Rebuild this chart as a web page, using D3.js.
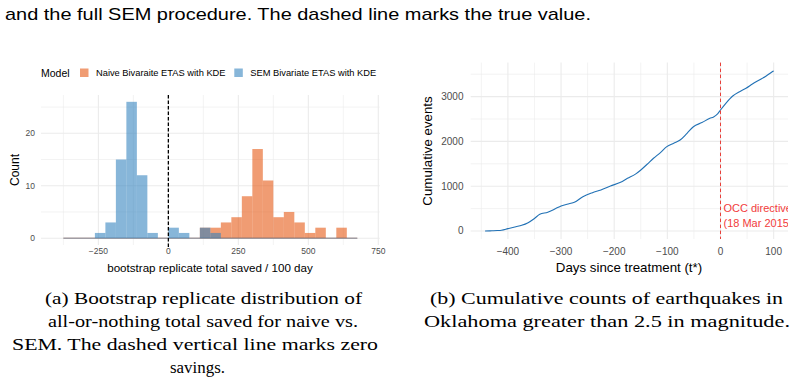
<!DOCTYPE html>
<html>
<head>
<meta charset="utf-8">
<script src="https://cdn.jsdelivr.net/npm/d3@7"></script>
<style>
body { margin: 0; background: #fff; }
svg { display: block; }
</style>
</head>
<body>
<div id="chart"></div>
<script>
// histogram bins (left edges, width 37.5) and counts per model
const binEdges = [-375, -337.5, -300, -262.5, -225, -187.5, -150, -112.5, -75, -37.5,
    0, 37.5, 75, 112.5, 150, 187.5, 225, 262.5, 300, 337.5,
    375, 412.5, 450, 487.5, 525, 562.5, 600, 637.5];
const binWidth = 37.5;
const naiveCounts = [0, 0, 0, 0, 0, 0, 0, 0, 0, 0, 0, 0, 0, 2, 2, 3, 4, 8, 17, 11, 4, 5, 3, 1, 2, 0, 2, 0];
const semCounts = [0, 0, 0, 1, 3, 15, 26, 12, 1, 0, 2, 1, 0, 2, 1, 0, 0, 0, 0, 0, 0, 0, 0, 0, 0, 0, 0, 0];
const modelNames = ["Naive Bivaraite ETAS with KDE", "SEM Bivariate ETAS with KDE"];
const modelColors = ["#e6550d", "#3182bd"];
const histXTicks = [-250, 0, 250, 500, 750];
const histXMinor = [-375, -125, 125, 375, 625];
const histYTicks = [0, 10, 20];
const histYMinor = [5, 15, 25];

// cumulative earthquake counts vs days since treatment
const days = [-443, -430, -420, -412, -400, -385, -374, -362, -350, -340, -325, -310, -300, -285, -275, -259,
    -241, -225, -207, -188, -175, -160, -151, -138, -126, -113, -101, -88, -76, -63, -51, -35, -20, -13, -5,
    0, 10, 23, 36, 48, 60, 73, 86, 98, 100];
const cumEvents = [0, 5, 10, 18, 52, 95, 127, 186, 280, 372, 417, 500, 558, 610, 640, 766,
    855, 915, 1004, 1087, 1176, 1270, 1350, 1490, 1623, 1750, 1882, 1960, 2031, 2180, 2328, 2420, 2515, 2545, 2620,
    2700, 2850, 3013, 3110, 3185, 3280, 3370, 3460, 3560, 3575];
const lineXTicks = [-400, -300, -200, -100, 0, 100];
const lineXMinor = [-450, -350, -250, -150, -50, 50];
const lineYTicks = [0, 1000, 2000, 3000];
const lineYMinor = [500, 1500, 2500, 3500];

const captionA = ["(a) Bootstrap replicate distribution of", "all-or-nothing total saved for naive vs.",
    "SEM. The dashed vertical line marks zero", "savings."];
const captionB = ["(b) Cumulative counts of earthquakes in", "Oklahoma greater than 2.5 in magnitude."];

const svg = d3.select("#chart")
    .append("svg")
    .attr("width", 797)
    .attr("height", 386);

const sans = "'Liberation Sans', Arial, sans-serif";
const serif = "'Liberation Serif', 'DejaVu Serif', serif";
const gridCol = "#ebebeb", tickCol = "#4d4d4d";

// leftover caption line of the previous figure
svg.append("text")
    .attr("x", 5).attr("y", 20)
    .style("font-family", sans).style("font-size", "17px")
    .attr("textLength", 586).attr("lengthAdjust", "spacingAndGlyphs")
    .text("and the full SEM procedure. The dashed line marks the true value.");

function drawGrid(g, x, y, xt, xm, yt, ym) {
    const [x0, x1] = x.range(), [y0, y1] = y.range();
    g.selectAll(".gxm").data(xm).enter().append("line")
        .attr("x1", d => x(d)).attr("x2", d => x(d)).attr("y1", y0).attr("y2", y1)
        .attr("stroke", gridCol).attr("stroke-width", 0.6);
    g.selectAll(".gym").data(ym).enter().append("line")
        .attr("y1", d => y(d)).attr("y2", d => y(d)).attr("x1", x0).attr("x2", x1)
        .attr("stroke", gridCol).attr("stroke-width", 0.6);
    g.selectAll(".gx").data(xt).enter().append("line")
        .attr("x1", d => x(d)).attr("x2", d => x(d)).attr("y1", y0).attr("y2", y1)
        .attr("stroke", gridCol).attr("stroke-width", 1.1);
    g.selectAll(".gy").data(yt).enter().append("line")
        .attr("y1", d => y(d)).attr("y2", d => y(d)).attr("x1", x0).attr("x2", x1)
        .attr("stroke", gridCol).attr("stroke-width", 1.1);
}

const fmt = d => d < 0 ? "\u2212" + Math.abs(d) : String(d);

// ---------- (a) histogram ----------
const hx = d3.scaleLinear().domain([-455, 755]).range([41, 379.7]);
const hy = d3.scaleLinear().domain([-1.3, 27.3]).range([245, 95]);
const ga = svg.append("g");
drawGrid(ga, hx, hy, histXTicks, histXMinor, histYTicks, histYMinor);

[naiveCounts, semCounts].forEach((counts, i) => {
    ga.append("line")
        .attr("x1", hx(binEdges[0])).attr("x2", hx(binEdges[binEdges.length - 1] + binWidth))
        .attr("y1", hy(0)).attr("y2", hy(0))
        .attr("stroke", modelColors[i]).attr("stroke-opacity", 0.6).attr("stroke-width", 1);
    ga.selectAll(".bar" + i)
        .data(binEdges.map((e, k) => ({ e: e, n: counts[k] })).filter(d => d.n > 0))
        .enter().append("rect")
        .attr("x", d => hx(d.e))
        .attr("width", d => hx(d.e + binWidth) - hx(d.e))
        .attr("y", d => hy(d.n))
        .attr("height", d => hy(0) - hy(d.n))
        .attr("fill", modelColors[i])
        .attr("fill-opacity", 0.58);
});

ga.append("line")
    .attr("x1", hx(0)).attr("x2", hx(0)).attr("y1", 95).attr("y2", 247)
    .attr("stroke", "#000").attr("stroke-width", 1.3).attr("stroke-dasharray", "3.5,2");

ga.selectAll(".hxl").data(histXTicks).enter().append("text")
    .attr("x", d => hx(d)).attr("y", 254)
    .attr("text-anchor", "middle")
    .style("font-family", sans).style("font-size", "8.5px").attr("fill", tickCol)
    .text(fmt);
ga.selectAll(".hyl").data(histYTicks).enter().append("text")
    .attr("x", 35).attr("y", d => hy(d) + 3)
    .attr("text-anchor", "end")
    .style("font-family", sans).style("font-size", "8.5px").attr("fill", tickCol)
    .text(fmt);
ga.append("text")
    .attr("x", 210).attr("y", 271.5)
    .attr("text-anchor", "middle")
    .style("font-family", sans).style("font-size", "11.6px")
    .text("bootstrap replicate total saved / 100 day");
ga.append("text")
    .attr("transform", "translate(19,170) rotate(-90)")
    .attr("text-anchor", "middle")
    .style("font-family", sans).style("font-size", "12px")
    .text("Count");

// legend
ga.append("text")
    .attr("x", 41).attr("y", 77)
    .style("font-family", sans).style("font-size", "10.5px")
    .text("Model");
const legX = [80, 234.3];
modelNames.forEach((name, i) => {
    ga.append("rect")
        .attr("x", legX[i]).attr("y", 68.5).attr("width", 8.5).attr("height", 8.5)
        .attr("fill", modelColors[i]).attr("fill-opacity", 0.58);
    ga.append("text")
        .attr("x", legX[i] + 16).attr("y", 76.2)
        .style("font-family", sans).style("font-size", "9.3px")
        .text(name);
});

// ---------- (b) cumulative events ----------
const lx = d3.scaleLinear().domain([-470, 127]).range([470.7, 788]);
const ly = d3.scaleLinear().domain([-179, 3759]).range([239, 62.6]);
const gb = svg.append("g");
drawGrid(gb, lx, ly, lineXTicks, lineXMinor, lineYTicks, lineYMinor);

gb.append("clipPath").attr("id", "clipb")
    .append("rect").attr("x", 470.7).attr("y", 62.6).attr("width", 788 - 470.7).attr("height", 239 - 62.6);

const line = d3.line().x(d => lx(d[0])).y(d => ly(d[1])).curve(d3.curveMonotoneX);
gb.append("path")
    .datum(days.map((d, i) => [d, cumEvents[i]]))
    .attr("d", line)
    .attr("fill", "none")
    .attr("stroke", "#2171b5")
    .attr("stroke-width", 1.1);

gb.append("line")
    .attr("x1", lx(0)).attr("x2", lx(0)).attr("y1", 62.6).attr("y2", 239)
    .attr("stroke", "#e8403a").attr("stroke-width", 1).attr("stroke-dasharray", "3.5,2.5");

const occ = gb.append("g").attr("clip-path", "url(#clipb)");
["OCC directive", "(18 Mar 2015)"].forEach((t, i) => {
    occ.append("text")
        .attr("x", lx(0) + 3).attr("y", 212 + i * 15)
        .style("font-family", sans).style("font-size", "11px")
        .attr("fill", "#f23c3c")
        .text(t);
});

gb.selectAll(".lxl").data(lineXTicks).enter().append("text")
    .attr("x", d => lx(d)).attr("y", 254.5)
    .attr("text-anchor", "middle")
    .style("font-family", sans).style("font-size", "10px").attr("fill", tickCol)
    .text(fmt);
gb.selectAll(".lyl").data(lineYTicks).enter().append("text")
    .attr("x", 463.5).attr("y", d => ly(d) + 3.5)
    .attr("text-anchor", "end")
    .style("font-family", sans).style("font-size", "10px").attr("fill", tickCol)
    .text(fmt);
gb.append("text")
    .attr("x", 629).attr("y", 271.5)
    .attr("text-anchor", "middle")
    .style("font-family", sans).style("font-size", "13.3px")
    .text("Days since treatment (t*)");
gb.append("text")
    .attr("transform", "translate(432,151) rotate(-90)")
    .attr("text-anchor", "middle")
    .style("font-family", sans).style("font-size", "13.3px")
    .text("Cumulative events");

// ---------- captions ----------
const capA = [[45, 362], [48, 358], [12, 378], [170, 225]];
captionA.forEach((t, i) => {
    svg.append("text")
        .attr("x", capA[i][0]).attr("y", 303.5 + i * 23.3)
        .style("font-family", serif).style("font-size", "17.5px")
        .attr("textLength", capA[i][1] - capA[i][0]).attr("lengthAdjust", "spacingAndGlyphs")
        .text(t);
});
const capB = [[430, 783], [424, 790]];
captionB.forEach((t, i) => {
    svg.append("text")
        .attr("x", capB[i][0]).attr("y", 303.5 + i * 23.3)
        .style("font-family", serif).style("font-size", "17.5px")
        .attr("textLength", capB[i][1] - capB[i][0]).attr("lengthAdjust", "spacingAndGlyphs")
        .text(t);
});
</script>
</body>
</html>
